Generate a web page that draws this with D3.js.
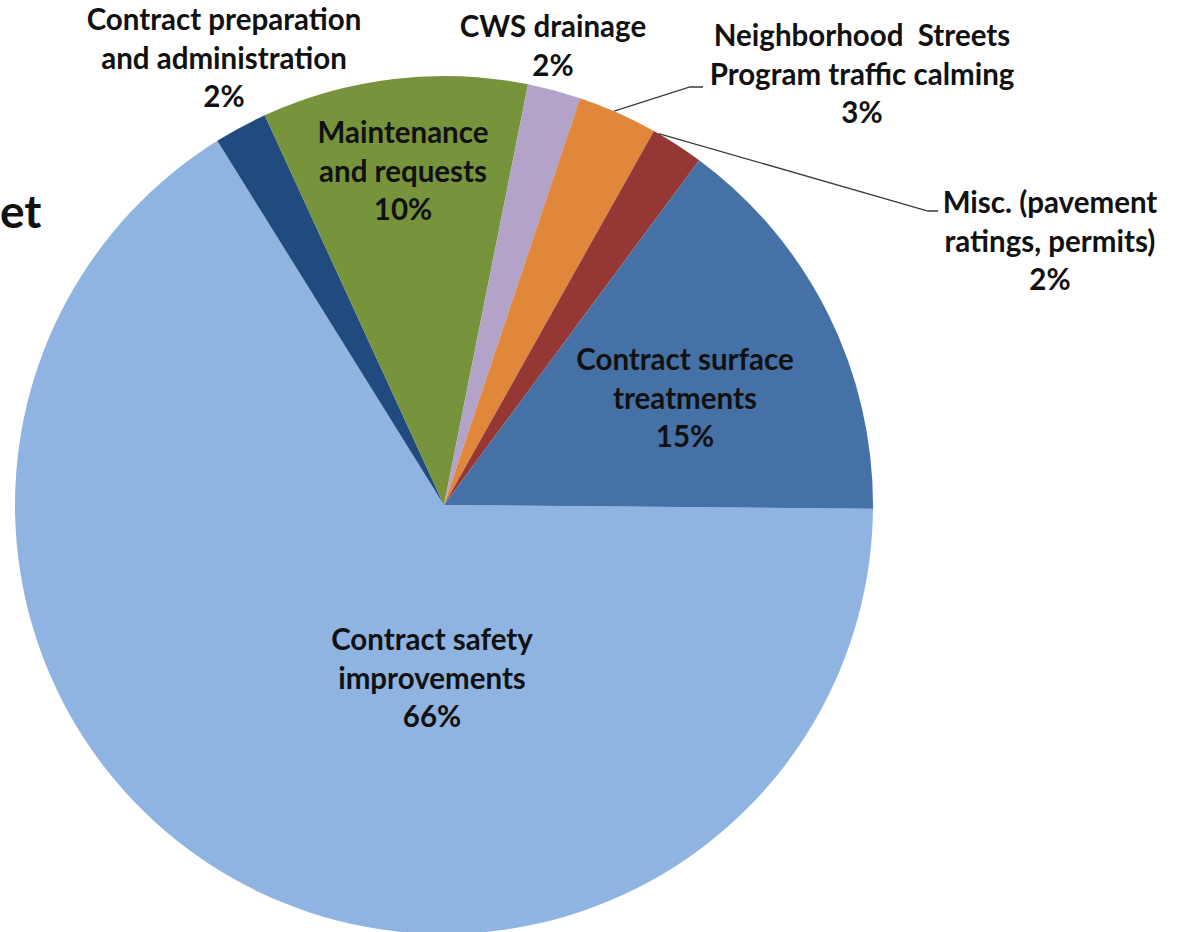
<!DOCTYPE html>
<html>
<head>
<meta charset="utf-8">
<script src="https://cdn.jsdelivr.net/npm/d3@7/dist/d3.min.js"></script>
<style>
  html, body { margin: 0; padding: 0; background: #ffffff; }
  svg { display: block; }
  text { font-family: Lato, "Open Sans", sans-serif; font-weight: 700; fill: #111; }
</style>
</head>
<body>
<svg id="chart" width="1180" height="932"></svg>
<script>
// Budget shares, in the order the slices run clockwise from 3 o'clock
const categories = [
  "Contract safety improvements",
  "Contract preparation and administration",
  "Maintenance and requests",
  "CWS drainage",
  "Neighborhood Streets Program traffic calming",
  "Misc. (pavement ratings, permits)",
  "Contract surface treatments"
];
const shares = [66, 2, 10, 2, 3, 2, 15];
const colors = ["#8FB4E2", "#214A7E", "#77933C", "#B3A3C8", "#E0873C", "#953735", "#4571A6"];

// Label lines per slice (the percentage is appended as the last line)
const labelLines = [
  ["Contract safety", "improvements"],
  ["Contract preparation", "and administration"],
  ["Maintenance", "and requests"],
  ["CWS drainage"],
  ["Neighborhood\u00A0 Streets", "Program traffic calming"],
  ["Misc. (pavement", "ratings, permits)"],
  ["Contract surface", "treatments"]
];

const svg = d3.select("#chart");
const cx = 444, cy = 505, radius = 429;
const lineGap = 38.5;

const pie = d3.pie()
  .sort(null)
  .value(d => d)
  .startAngle(90.5 * Math.PI / 180)
  .endAngle(450.5 * Math.PI / 180);
const arcs = pie(shares);
const arc = d3.arc().innerRadius(0).outerRadius(radius);

const g = svg.append("g").attr("transform", `translate(${cx},${cy})`);
g.selectAll("path.slice")
  .data(arcs)
  .join("path")
  .attr("class", "slice")
  .attr("d", arc)
  .attr("fill", (d, i) => colors[i]);

// Label anchor: [centre x, first baseline y] in page coordinates
const labelPos = [
  [432, 650],
  [224, 30],
  [403, 143],
  [553, 37],
  [862, 46],
  [1050, 213],
  [685, 370]
];

const labels = svg.append("g");
arcs.forEach((a, i) => {
  const lines = labelLines[i].concat([shares[i] + "%"]);
  const t = labels.append("text")
    .attr("text-anchor", "middle")
    .attr("font-size", 29.5)
    .attr("x", labelPos[i][0])
    .attr("y", labelPos[i][1]);
  lines.forEach((ln, k) => {
    t.append("tspan")
      .attr("x", labelPos[i][0])
      .attr("dy", k === 0 ? 0 : lineGap)
      .text(ln);
  });
});

// Leader lines for the two outside labels, starting on the slice rims
function rimPoint(a, frac) {
  const ang = a.startAngle + (a.endAngle - a.startAngle) * frac;
  return [cx + radius * Math.sin(ang), cy - radius * Math.cos(ang)];
}
const leaderLine = d3.line();
const nb = rimPoint(arcs[4], 0.45);
svg.append("path")
  .attr("d", leaderLine([nb, [690, 87], [703, 87]]))
  .attr("fill", "none").attr("stroke", "#3a3a3a").attr("stroke-width", 1.3);
const mi = rimPoint(arcs[5], 0.1);
svg.append("path")
  .attr("d", leaderLine([mi, [928, 211], [938, 211]]))
  .attr("fill", "none").attr("stroke", "#3a3a3a").attr("stroke-width", 1.3);

// Tail of the chart title at the left edge
svg.append("text")
  .attr("x", 0)
  .attr("y", 228)
  .attr("font-size", 46)
  .text("et");
</script>
</body>
</html>
